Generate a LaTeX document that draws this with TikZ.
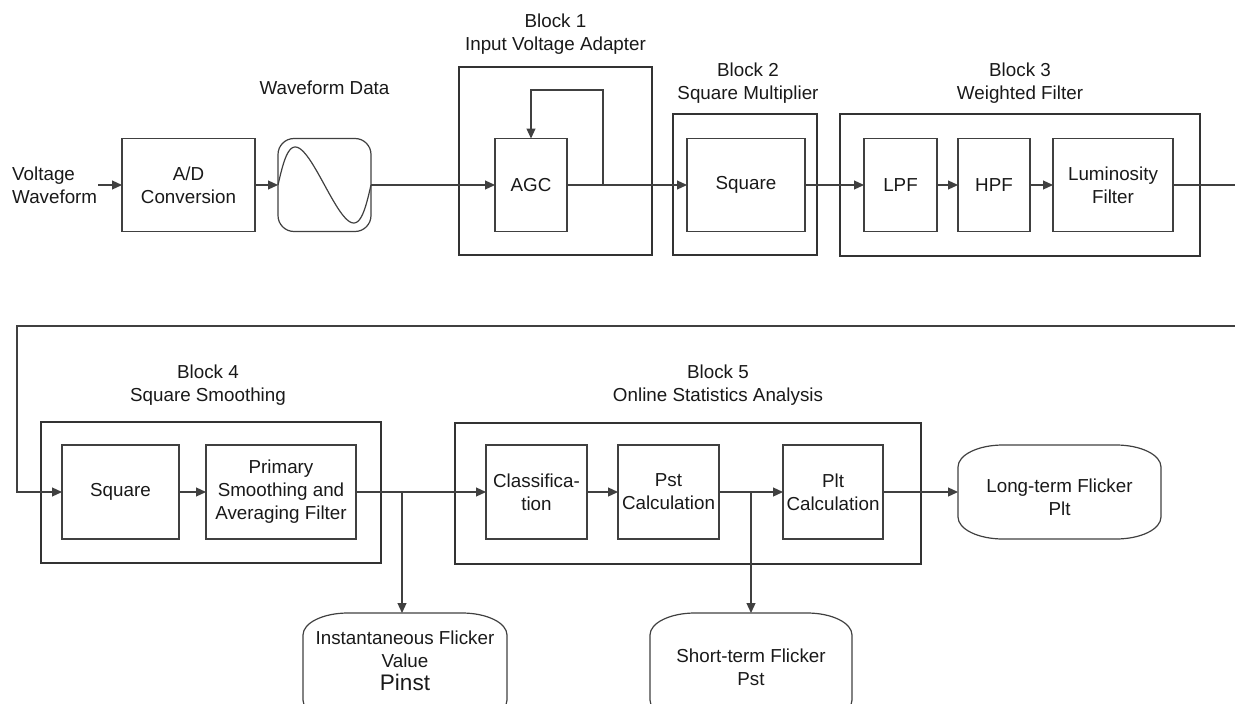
\documentclass[tikz,border=0pt]{standalone}
\usepackage{fontspec}
\setmainfont{Liberation Sans}
\usetikzlibrary{arrows.meta}
\definecolor{linec}{gray}{0.25}
\definecolor{grpc}{gray}{0.2}
\definecolor{textc}{gray}{0.1}
\newcommand\termpath[1]{%
  \draw[ln] ([yshift=-22pt]#1.north west) arc[start angle=180,end angle=90,x radius=45pt,y radius=22pt]
    -- ([xshift=-45pt]#1.north east) arc[start angle=90,end angle=0,x radius=45pt,y radius=22pt]
    -- ([yshift=22pt]#1.south east) arc[start angle=0,end angle=-90,x radius=45pt,y radius=22pt]
    -- ([xshift=45pt]#1.south west) arc[start angle=-90,end angle=-180,x radius=45pt,y radius=22pt] -- cycle;}
\begin{document}
\begin{tikzpicture}[x=1pt,y=-1pt,
  font=\fontsize{18.8}{23}\selectfont,
  every node/.style={text=textc},
  ln/.style={draw=linec, line width=1.2pt},
  arr/.style={ln, -{Triangle[length=10pt,width=9pt]}},
  blk/.style={draw=linec, line width=1.2pt, inner sep=0pt, outer sep=0pt, align=center, minimum height=93pt},
  grp/.style={draw=grpc, line width=1.2pt, inner sep=0pt, outer sep=0pt},
  term/.style={inner sep=0pt, outer sep=0pt},
  lbl/.style={align=center, inner sep=0pt}]
\useasboundingbox (0,0) rectangle (1235,704);

% group frames, top row
\node[grp, minimum width=193pt, minimum height=188pt] (b1) at (555.5,161) {};
\node[grp, minimum width=144pt, minimum height=141pt] (b2) at (745,184.5) {};
\node[grp, minimum width=360pt, minimum height=142pt] (b3) at (1020,185) {};

% top row blocks
\node[lbl, anchor=west, align=left, inner sep=1pt] (vw) at (11,185) {Voltage\\Waveform};
\node[blk, minimum width=133pt] (ad) at (188.5,185) {A/D\\Conversion};
\node[blk, rounded corners=16pt, minimum width=93pt] (wave) at (324.5,185) {};
\draw[ln] plot[domain=0:1, samples=73, smooth] ({278+93*\x-6*sin(360*\x)},{185-38*sin(360*\x)});
\node[blk, minimum width=72pt] (agc) at (531,185) {AGC};
\node[blk, minimum width=118pt] (sq2) at (746,185) {Square};
\node[blk, minimum width=73pt] (lpf) at (900.5,185) {LPF};
\node[blk, minimum width=72pt] (hpf) at (994,185) {HPF};
\node[blk, minimum width=120pt] (lum) at (1113,185) {Luminosity\\Filter};

% top labels
\node[lbl] (wdl) at (324.5,88) {Waveform Data};
\node[lbl] (b1l) at (555.5,34.5) {Block 1\\Input Voltage Adapter};
\node[lbl] (b2l) at (748,83) {Block 2\\Square Multiplier};
\node[lbl] (b3l) at (1020,83) {Block 3\\Weighted Filter};

% top connectors
\coordinate (fb) at (603,185);
\coordinate (fbt) at (603,90);
\coordinate (r1) at (1235,185);
\coordinate (r2) at (1235,326);
\coordinate (lcorner) at (17,326);
\draw[arr] (vw.east) -- (ad.west);
\draw[arr] (ad.east) -- (wave.west);
\draw[arr] (wave.east) -- (agc.west);
\draw[arr] (agc.east) -- (sq2.west);
\draw[arr] (fb) -- (fbt) -| (agc.north);
\draw[arr] (sq2.east) -- (lpf.west);
\draw[arr] (lpf.east) -- (hpf.west);
\draw[arr] (hpf.east) -- (lum.west);
\draw[ln] (lum.east) -- (r1);

% bottom group frames
\node[grp, minimum width=340pt, minimum height=141pt] (b4) at (211,492.5) {};
\node[grp, minimum width=466pt, minimum height=141pt] (b5) at (688,493.5) {};

% bottom blocks
\node[blk, minimum width=117pt, minimum height=94pt] (sq4) at (120.5,492) {Square};
\node[blk, minimum width=150pt, minimum height=94pt] (prim) at (281,492) {Primary\\Smoothing and\\Averaging Filter};
\node[blk, minimum width=101pt, minimum height=94pt] (cls) at (536.5,492) {Classifica-\\tion};
\node[blk, minimum width=101pt, minimum height=94pt] (pst) at (668.5,492) {Pst\\Calculation};
\node[blk, minimum width=100pt, minimum height=94pt] (plt) at (833,492) {Plt\\Calculation};

\node[lbl] (b4l) at (208,385) {Block 4\\Square Smoothing};
\node[lbl] (b5l) at (718,385) {Block 5\\Online Statistics Analysis};

% terminals
\node[term, minimum width=203pt, minimum height=94pt] (lt) at (1059.5,492) {};
\termpath{lt}
\node[lbl] (ltt) at (1059.5,497) {Long-term Flicker\\Plt};
\node[term, minimum width=204pt, minimum height=109pt] (pinst) at (405,667.5) {};
\termpath{pinst}
\node[lbl] (pinstt) at (405,661) {Instantaneous Flicker\\Value\\{\fontsize{22.5}{24}\selectfont Pinst}};
\node[term, minimum width=202pt, minimum height=109pt] (pstout) at (751,667.5) {};
\termpath{pstout}
\node[lbl] (pstt) at (751,667) {Short-term Flicker\\Pst};

% bottom connectors
\coordinate (br1) at (402,492);
\coordinate (br2) at (751,492);
\draw[arr] (r2) -- (lcorner) |- (sq4.west);
\draw[arr] (sq4.east) -- (prim.west);
\draw[arr] (prim.east) -- (cls.west);
\draw[arr] (br1) -- (br1 |- pinst.north);
\draw[arr] (cls.east) -- (pst.west);
\draw[arr] (pst.east) -- (plt.west);
\draw[arr] (br2) -- (br2 |- pstout.north);
\draw[arr] (plt.east) -- (lt.west);
\end{tikzpicture}
\end{document}
